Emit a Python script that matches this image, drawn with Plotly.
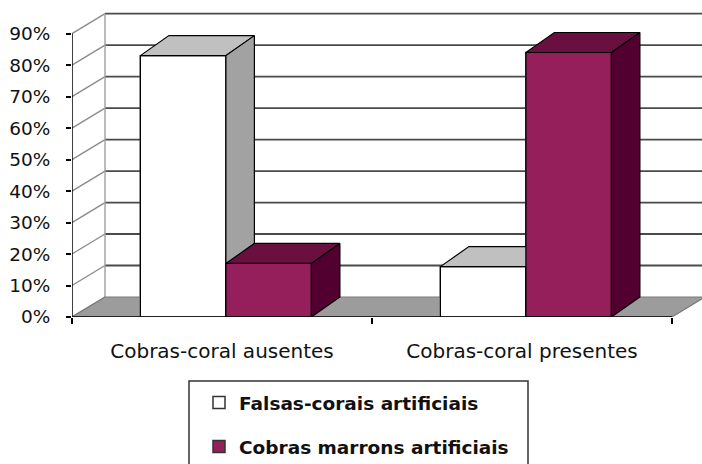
import plotly.graph_objects as go

categories = ["Cobras-coral ausentes", "Cobras-coral presentes"]
series_names = ["Falsas-corais artificiais", "Cobras marrons artificiais"]
falsas_corais = [83, 16]
cobras_marrons = [17, 84]
y_ticks = [0, 10, 20, 30, 40, 50, 60, 70, 80, 90]

# style / geometry (data-unit offsets for the pseudo-3D look)
W, H = 702, 464
ML, MR, MT, MB = 72, 0, 0, 147
PX_PER_X = 300.0
PX_PER_PCT = 3.149
XMAX = (W - ML - MR) / PX_PER_X
YMAX = (H - MT - MB) / PX_PER_PCT
WALL_DX = 33 / PX_PER_X
WALL_DY = 20 / PX_PER_PCT
BAR_DX = 28.5 / PX_PER_X
BAR_DY = 20 / PX_PER_PCT
BAR_W = 0.285
SHIFT = 0.013
NCAT = len(categories)

colors = {
    series_names[0]: dict(front="#FFFFFF", top="#C0C0C0", side="#A2A2A2"),
    series_names[1]: dict(front="#951F5B", top="#6A1040", side="#52002F"),
}

fig = go.Figure()

# legend carriers (real bars, overdrawn by the 3D faces below)
cat_x = [i + 0.5 for i in range(NCAT)]
for name, vals, off in [(series_names[0], falsas_corais, -BAR_W + SHIFT),
                        (series_names[1], cobras_marrons, SHIFT)]:
    fig.add_trace(go.Bar(
        x=cat_x, y=vals, width=BAR_W, offset=off, name=name,
        legendgroup=name,
        marker=dict(color=colors[name]["front"], line=dict(color="#333333", width=1.5)),
        hoverinfo="skip",
    ))

def poly(xs, ys, fill, line_color="#000000", lw=1.2):
    fig.add_trace(go.Scatter(
        x=xs + [xs[0]], y=ys + [ys[0]], mode="lines", fill="toself",
        fillcolor=fill, line=dict(color=line_color, width=lw),
        showlegend=False, hoverinfo="skip"))

def lines(xs, ys, color, lw):
    fig.add_trace(go.Scatter(x=xs, y=ys, mode="lines",
                             line=dict(color=color, width=lw),
                             showlegend=False, hoverinfo="skip"))

# back wall gridlines
gx, gy = [], []
for t in y_ticks[1:]:
    gx += [WALL_DX, XMAX + 0.05, None]
    gy += [t + WALL_DY, t + WALL_DY, None]
lines(gx, gy, "#4A4A4A", 1.8)
# side wall diagonals
sx, sy = [], []
for t in y_ticks:
    sx += [0, WALL_DX, None]
    sy += [t, t + WALL_DY, None]
lines(sx, sy, "#8C8C8C", 1.4)
# back wall left edge
lines([WALL_DX, WALL_DX], [WALL_DY, y_ticks[-1] + WALL_DY], "#A0A0A0", 1.4)

# floor
poly([0, NCAT, NCAT + WALL_DX, WALL_DX], [0, 0, WALL_DY, WALL_DY], "#9C9C9C", "#7A7A7A", 1.2)

# bars
for i in range(NCAT):
    for name, vals, x0 in [(series_names[0], falsas_corais, i + 0.5 - BAR_W + SHIFT),
                           (series_names[1], cobras_marrons, i + 0.5 + SHIFT)]:
        v = vals[i]
        x1 = x0 + BAR_W
        c = colors[name]
        poly([x0, x1, x1, x0], [0, 0, v, v], c["front"])
        poly([x0, x1, x1 + BAR_DX, x0 + BAR_DX], [v, v, v + BAR_DY, v + BAR_DY], c["top"])
        poly([x1, x1 + BAR_DX, x1 + BAR_DX, x1], [0, BAR_DY, v + BAR_DY, v], c["side"])

# front axis lines
lines([0, 0], [0, y_ticks[-1]], "#000000", 1.5)
lines([0, NCAT], [0, 0], "#000000", 1.5)

# legend border (layout decoration)
def px2paper_x(px):
    return (px - ML) / (W - ML - MR)

def px2paper_y(py):
    return (H - MB - py) / (H - MT - MB)

fig.add_shape(type="rect", xref="paper", yref="paper",
              x0=px2paper_x(189), x1=px2paper_x(528),
              y0=px2paper_y(381), y1=px2paper_y(480),
              line=dict(color="#333333", width=1.5), fillcolor="rgba(0,0,0,0)")

fig.update_layout(
    width=W, height=H,
    margin=dict(l=ML, r=MR, t=MT, b=MB, pad=0, autoexpand=False),
    paper_bgcolor="white", plot_bgcolor="white",
    barmode="overlay",
    showlegend=True,
    legend=dict(
        xref="container", yref="container",
        x=199 / W, y=1 - 384 / H, xanchor="left", yanchor="top",
        font=dict(family="DejaVu Sans", size=18.5, color="#111111", weight="bold"),
        bgcolor="rgba(0,0,0,0)", borderwidth=0, tracegroupgap=17,
        traceorder="grouped",
    ),
    xaxis=dict(
        range=[0, XMAX], showgrid=False, zeroline=False, showline=False,
        tickvals=cat_x, ticktext=categories, ticks="",
        tickfont=dict(family="DejaVu Sans", size=20, color="#111111"),
        ticklabelstandoff=20, automargin=False,
        minor=dict(tickvals=list(range(NCAT + 1)), ticks="outside", ticklen=6,
                   tickcolor="#000000", tickwidth=1.5),
        fixedrange=True,
    ),
    yaxis=dict(
        range=[0, YMAX], showgrid=False, zeroline=False, showline=False,
        tickvals=y_ticks, ticktext=[f"{t}%" for t in y_ticks],
        ticks="outside", ticklen=5, tickcolor="#000000", tickwidth=1.5,
        tickfont=dict(family="DejaVu Sans", size=18.5, color="#111111"),
        ticklabelstandoff=12, automargin=False,
        fixedrange=True,
    ),
)

fig.write_html("out.html", config={"displayModeBar": False},
               post_script="document.body.style.margin='0px';document.body.style.overflow='hidden';")
